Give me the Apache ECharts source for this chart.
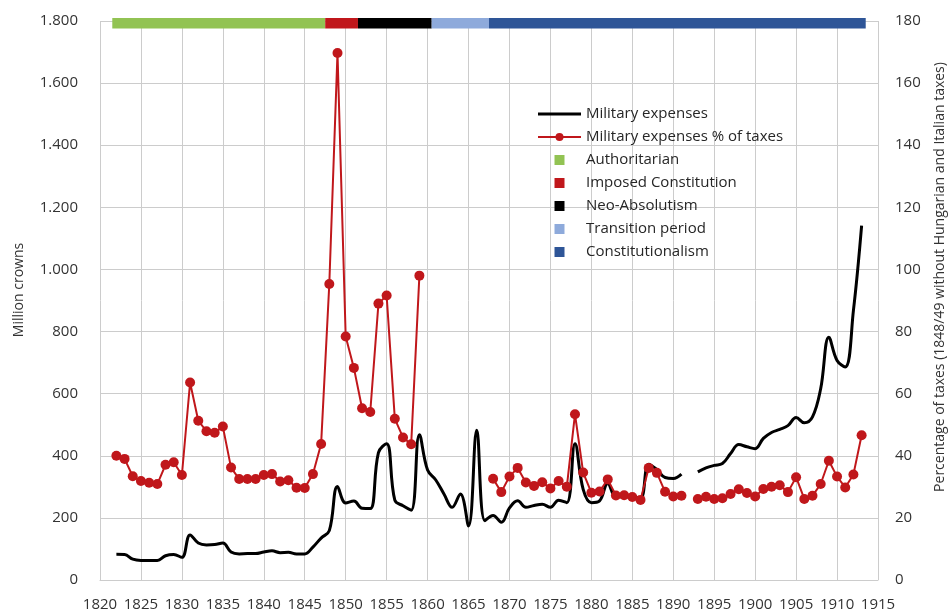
<!DOCTYPE html>
<html>
<head>
<meta charset="utf-8">
<script src="https://cdn.jsdelivr.net/npm/echarts@6/dist/echarts.min.js"></script>
<style>
html,body{margin:0;padding:0;background:#fff;}
#chart{width:952px;height:615px;}
</style>
</head>
<body>
<div id="chart"></div>
<script>
// ---- data ----
const firstYear = 1822;
// Military expenses, million crowns (1822..1913), null = no data
const militaryExpenses = [
  83, 82, 67, 63, 63, 63, 78, 82, 73, 145,      // 1822-1831
  119, 113, 114, 119, 90, 84, 85, 85, 90, 94,   // 1832-1841
  88, 89, 84, 84, 106, 135, 159, 301, 248, 254, // 1842-1851
  231, 230, 410, 439, 257, 239, 225, 468, 354, 322, // 1852-1861
  277, 234, 277, 174, 482, 191, 208, 186, 232, 255, // 1862-1871
  234, 240, 244, 234, 257, 249, 439, 292, 249, 255, // 1872-1881
  311, 268, 268, 268, 263, 373, 356, 330, 327, 341, // 1882-1891
  null, 348, 361, 369, 375, 407, 436, 429, 423, 456, // 1892-1901
  475, 485, 497, 523, 506, 525, 616, 782, 707, 686, // 1902-1911
  868, 1141                                        // 1912-1913
];
// Military expenses as % of taxes (1822..1913)
const militaryPctTaxes = [
  40, 39, 33.4, 31.9, 31.3, 30.9, 37.1, 37.9, 33.8, 63.6,   // 1822-1831
  51.3, 47.9, 47.4, 49.4, 36.2, 32.5, 32.5, 32.5, 33.8, 34.1, // 1832-1841
  31.7, 32.1, 29.7, 29.6, 34.1, 43.8, 95.3, 169.7, 78.4, 68.3, // 1842-1851
  55.3, 54.1, 89, 91.6, 51.9, 45.9, 43.7, 98, null, null,     // 1852-1861
  null, null, null, null, null, null, 32.6, 28.3, 33.3, 36.1, // 1862-1871
  31.4, 30.3, 31.5, 29.5, 31.9, 30.0, 53.4, 34.6, 28.1, 28.5, // 1872-1881
  32.4, 27.2, 27.3, 26.7, 25.8, 36.1, 34.5, 28.4, 26.9, 27.1, // 1882-1891
  null, 26.1, 26.8, 26.1, 26.3, 27.7, 29.2, 28.0, 26.9, 29.3, // 1892-1901
  30.0, 30.5, 28.3, 33.1, 26.1, 27.1, 30.9, 38.4, 33.3, 29.8, // 1902-1911
  34.0, 46.6                                                  // 1912-1913
];
// Political regimes
const regimeNames = ['Authoritarian', 'Imposed Constitution', 'Neo-Absolutism', 'Transition period', 'Constitutionalism'];
const regimeStart = [1822, 1848, 1852, 1861, 1868];
const regimeEnd   = [1847, 1851, 1860, 1867, 1913];
// axis ticks
const xTickStart = 1820, xTickEnd = 1915, xTickStep = 5;
const leftTickMax = 1800, leftTickStep = 200;
const rightTickMax = 180, rightTickStep = 20;

// ---- styles ----
const regimeColors = ['#92c353', '#c0171b', '#000000', '#8eaadb', '#2e5597'];
const FONT = 'Open Sans';
const TXT = '#333333';
const GRID = '#cccccc';

const expData = militaryExpenses.map((v, i) => [firstYear + i, v]);
const pctData = militaryPctTaxes.map((v, i) => [firstYear + i, v]);

const fmtThousands = v => String(v).replace(/\B(?=(\d{3})+(?!\d))/g, '.');

const squareIcon = 'path://M0,0H10V10H0Z';
const lineIcon = 'path://M0,0H43V3H0Z';

const regimeSeries = regimeNames.map((name, i) => ({
  name: name,
  type: 'custom',
  xAxisIndex: 0,
  yAxisIndex: 0,
  clip: false,
  z: 5,
  silent: true,
  itemStyle: { color: regimeColors[i] },
  encode: { x: [0, 1] },
  data: [[regimeStart[i], regimeEnd[i]]],
  renderItem: function (params, api) {
    const a = api.coord([api.value(0) - 0.5, leftTickMax]);
    const b = api.coord([api.value(1) + 0.5, leftTickMax]);
    return {
      type: 'rect',
      shape: { x: a[0], y: a[1] - 3, width: b[0] - a[0], height: 10.5 },
      style: { fill: regimeColors[i] }
    };
  }
}));

const chart = echarts.init(document.getElementById('chart'), null, { renderer: 'canvas' });
chart.setOption({
  animation: false,
  backgroundColor: '#ffffff',
  textStyle: { fontFamily: FONT },
  grid: { left: 100, right: 74, top: 21, bottom: 35, containLabel: false },
  legend: {
    orient: 'vertical',
    left: 532,
    top: 101,
    itemWidth: 43,
    itemHeight: 10,
    itemGap: 7,
    textStyle: { fontFamily: FONT, fontSize: 15, color: '#262626', lineHeight: 16 },
    data: [
      { name: 'Military expenses', icon: lineIcon },
      { name: 'Military expenses % of taxes' }
    ].concat(regimeNames.map(n => ({ name: n, icon: squareIcon })))
  },
  xAxis: {
    type: 'value',
    min: xTickStart,
    max: xTickEnd,
    interval: xTickStep,
    axisLine: { show: true, lineStyle: { color: GRID, width: 1 } },
    axisTick: { show: false },
    axisLabel: { fontFamily: FONT, fontSize: 15, color: TXT, margin: 17, formatter: v => String(v) },
    splitLine: { show: true, lineStyle: { color: GRID, width: 1 } }
  },
  yAxis: [
    {
      type: 'value',
      min: 0, max: leftTickMax, interval: leftTickStep,
      axisLine: { show: false },
      axisTick: { show: false },
      axisLabel: { fontFamily: FONT, fontSize: 15, color: TXT, margin: 22, formatter: fmtThousands },
      splitLine: { show: true, lineStyle: { color: GRID, width: 1 } }
    },
    {
      type: 'value',
      position: 'right',
      min: 0, max: rightTickMax, interval: rightTickStep,
      axisLine: { show: false },
      axisTick: { show: false },
      axisLabel: { fontFamily: FONT, fontSize: 15, color: TXT, margin: 17 },
      splitLine: { show: false }
    }
  ],
  graphic: [
    {
      type: 'text', x: 19, y: 290, rotation: Math.PI / 2,
      style: { text: 'Million crowns', font: '14px "Open Sans"', fill: TXT, textAlign: 'center', textVerticalAlign: 'middle' }
    },
    {
      type: 'text', x: 940, y: 277, rotation: Math.PI / 2,
      style: { text: 'Percentage of taxes (1848/49 without Hungarian and Italian taxes)', font: '14px "Open Sans"', fill: TXT, textAlign: 'center', textVerticalAlign: 'middle' }
    }
  ],
  series: [
    {
      name: 'Military expenses',
      type: 'line',
      yAxisIndex: 0,
      smooth: 0.4,
      connectNulls: false,
      showSymbol: false,
      symbol: 'none',
      lineStyle: { color: '#000000', width: 3 },
      itemStyle: { color: '#000000' },
      z: 3,
      data: expData
    },
    {
      name: 'Military expenses % of taxes',
      type: 'line',
      yAxisIndex: 1,
      connectNulls: false,
      symbol: 'circle',
      symbolSize: 10,
      lineStyle: { color: '#c0171b', width: 2 },
      itemStyle: { color: '#c0171b' },
      z: 4,
      data: pctData
    }
  ].concat(regimeSeries)
});
</script>
</body>
</html>
